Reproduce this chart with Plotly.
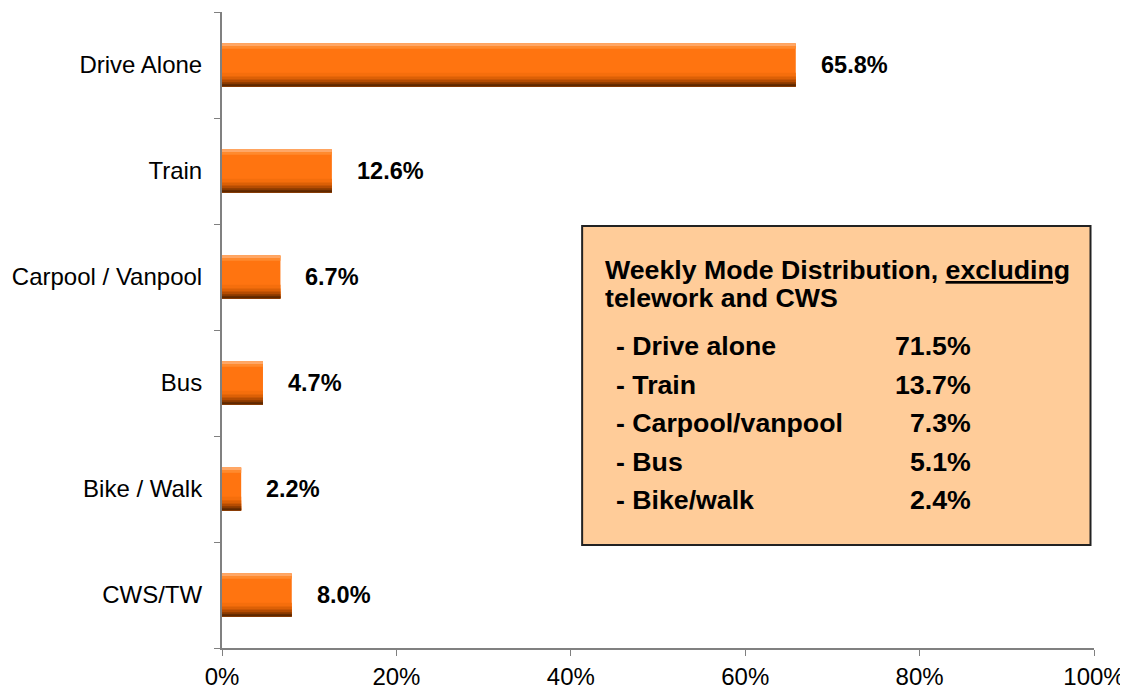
import plotly.graph_objects as go

# ---- data ----
categories = ["CWS/TW", "Bike / Walk", "Bus", "Carpool / Vanpool", "Train", "Drive Alone"]
values = [8.0, 2.2, 4.7, 6.7, 12.6, 65.8]
value_labels = ["8.0%", "2.2%", "4.7%", "6.7%", "12.6%", "65.8%"]
x_ticks = [0, 20, 40, 60, 80, 100]
x_tick_labels = ["0%", "20%", "40%", "60%", "80%", "100%"]

box_title_1 = "Weekly Mode Distribution, <u>excluding</u>"
box_title_2 = "telework and CWS"
box_labels = ["- Drive alone", "- Train", "- Carpool/vanpool", "- Bus", "- Bike/walk"]
box_values = ["71.5%", "13.7%", "7.3%", "5.1%", "2.4%"]

# ---- layout constants (pixels) ----
# the page body adds an 8px offset, so the figure is 8px smaller on each axis
W, H = 1120, 682
ML, MR, MT, MB = 214, 34, 4, 42
plot_h = H - MT - MB
PLOT_BOTTOM_SCREEN = 648  # screenshot row of the x axis


def py(pix):
    """convert screenshot pixel row to paper y"""
    return (PLOT_BOTTOM_SCREEN - pix) / plot_h


FONT = "Liberation Sans, Arial, sans-serif"

fig = go.Figure()

BAR_W = 0.405
# main bar body
fig.add_trace(go.Bar(y=categories, x=values, orientation="h", width=BAR_W,
                     marker=dict(color="#FF7410", line=dict(width=0)),
                     hoverinfo="skip", showlegend=False))
# top highlight
fig.add_trace(go.Bar(y=categories, x=values, orientation="h", width=0.05, offset=BAR_W / 2 - 0.05,
                     marker=dict(color="#FF8A2E", line=dict(width=0)),
                     hoverinfo="skip", showlegend=False))
fig.add_trace(go.Bar(y=categories, x=values, orientation="h", width=0.018, offset=BAR_W / 2 - 0.018,
                     marker=dict(color="#FFA766", line=dict(width=0)),
                     hoverinfo="skip", showlegend=False))
# lower shading, layered from the bottom edge
shade_widths = [0.13, 0.095, 0.065, 0.04, 0.02]
shade_colors = ["#F56E0C", "#DC6006", "#B54C02", "#8A3A00", "#5E2800"]
for sw, sc in zip(shade_widths, shade_colors):
    fig.add_trace(go.Bar(y=categories, x=values, orientation="h", width=sw, offset=-BAR_W / 2,
                         marker=dict(color=sc, line=dict(width=0)),
                         hoverinfo="skip", showlegend=False))

annotations = []
for c, v, lab in zip(categories, values, value_labels):
    annotations.append(dict(x=v, y=c, xref="x", yref="y", text=f"<b>{lab}</b>",
                            showarrow=False, xanchor="left", xshift=23,
                            font=dict(family=FONT, size=23.5, color="black")))

BOX_FONT = dict(family=FONT, size=26.7, color="black")
annotations.append(dict(x=43.7, y=py(270), xref="x", yref="paper", text=f"<b>{box_title_1}</b>",
                        showarrow=False, xanchor="left", yanchor="middle", font=BOX_FONT))
annotations.append(dict(x=43.7, y=py(298), xref="x", yref="paper", text=f"<b>{box_title_2}</b>",
                        showarrow=False, xanchor="left", yanchor="middle", font=BOX_FONT))
row_pix = [346, 385, 423, 462, 500]
for rp, lab, val in zip(row_pix, box_labels, box_values):
    annotations.append(dict(x=45.0, y=py(rp), xref="x", yref="paper", text=f"<b>{lab}</b>",
                            showarrow=False, xanchor="left", yanchor="middle", font=BOX_FONT))
    annotations.append(dict(x=86.1, y=py(rp), xref="x", yref="paper", text=f"<b>{val}</b>",
                            showarrow=False, xanchor="right", yanchor="middle", font=BOX_FONT))

fig.update_layout(
    width=W, height=H,
    margin=dict(l=ML, r=MR, t=MT, b=MB, pad=0, autoexpand=False),
    paper_bgcolor="white", plot_bgcolor="white",
    barmode="overlay", bargap=0.6,
    showlegend=False,
    font=dict(family=FONT, size=24, color="black"),
    annotations=annotations,
    shapes=[dict(type="rect", xref="x", yref="paper", x0=41.3, x1=99.6,
                 y0=py(545), y1=py(226), fillcolor="#FFCC99",
                 line=dict(color="#222222", width=2), layer="above")],
    xaxis=dict(range=[0, 100], tickvals=x_ticks, ticktext=x_tick_labels, automargin=False,
               showgrid=False, zeroline=False, showline=True, linecolor="#808080",
               linewidth=2, ticks="outside", ticklen=6, tickcolor="#808080",
               tickfont=dict(family=FONT, size=24, color="black"), fixedrange=True),
    yaxis=dict(categoryorder="array", categoryarray=categories, automargin=False,
               range=[-0.5, 5.5], showgrid=False, zeroline=False, showline=True,
               linecolor="#808080", linewidth=2, ticks="outside", ticklen=6,
               tickcolor="#808080", tickson="boundaries",
               tickfont=dict(family=FONT, size=24, color="black"), ticklabelstandoff=13),
)

fig.write_html("out.html")
